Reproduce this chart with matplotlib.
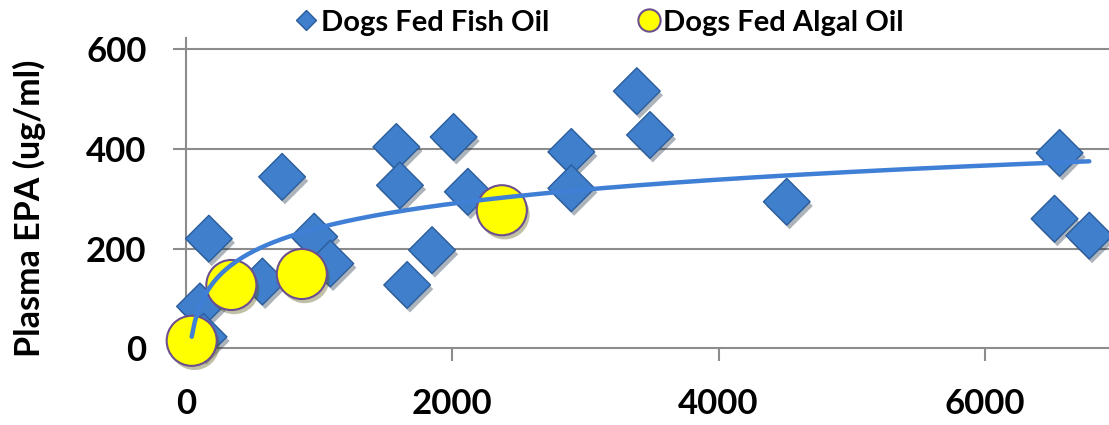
import numpy as np
import matplotlib
matplotlib.use("Agg")
import matplotlib.pyplot as plt
from matplotlib.lines import Line2D
import matplotlib.patheffects as pe

plt.rcParams['font.family'] = ['Lato', 'DejaVu Sans']
plt.rcParams['font.weight'] = 'bold'

# EPA dose (x) vs plasma EPA (ug/ml)
fish_x = [172, 105, 132, 574, 722, 963, 1084, 1580, 1607, 1661, 1848, 2010, 2117,
          2894, 2894, 3386, 3485, 4512, 6561, 6523, 6784]
fish_y = [220, 84, 23, 134, 344, 224, 170, 404, 327, 127, 197, 424, 314,
          394, 321, 516, 428, 294, 392, 260, 226]
algal_x = [43, 341, 870, 2372]
algal_y = [15, 127, 149, 277]

x_ticks = [0, 2000, 4000, 6000]
y_ticks = [0, 200, 400, 600]

FISH_BLUE = '#3f7fcc'
FISH_EDGE = '#2b5d9c'
ALGAL_FACE = '#ffff00'
ALGAL_EDGE = '#6b4f8f'
GRID = '#8c8c8c'

fig = plt.figure(figsize=(11.09, 4.25), dpi=100)
ax = fig.add_axes([0.1677, 0.1805, 0.8323, 0.7294])

shadow = [pe.SimplePatchShadow(offset=(2, -3), alpha=0.35), pe.Normal()]
ax.scatter(fish_x, fish_y, marker='D', s=565, color=FISH_BLUE,
           edgecolor=FISH_EDGE, linewidth=1, zorder=3, path_effects=shadow,
           clip_on=False)
ax.scatter(algal_x, algal_y, marker='o', s=1300, color=ALGAL_FACE,
           edgecolor=ALGAL_EDGE, linewidth=1.5, zorder=4, path_effects=shadow,
           clip_on=False)

# logarithmic trend over all dogs
all_x = np.array(fish_x + algal_x, dtype=float)
all_y = np.array(fish_y + algal_y, dtype=float)
b, a = np.polyfit(np.log(all_x), all_y, 1)
tx = np.linspace(all_x.min(), all_x.max(), 300)
ax.plot(tx, a + b * np.log(tx), color='#3f7fd6', lw=3.2, zorder=5,
        solid_capstyle='round', clip_on=False)

ax.set_xlim(0, 6932)
ax.set_ylim(0, 622)
ax.set_xticks(x_ticks)
ax.set_yticks(y_ticks)
for yv in y_ticks[1:]:
    ax.axhline(yv, color=GRID, lw=1.5, zorder=1)
for side in ('top', 'right'):
    ax.spines[side].set_visible(False)
for side in ('left', 'bottom'):
    ax.spines[side].set_color(GRID)
    ax.spines[side].set_linewidth(1.5)
ax.tick_params(axis='both', direction='out', length=9.5, width=1.5,
               color=GRID, labelsize=25, pad=19)
for lab in ax.get_xticklabels() + ax.get_yticklabels():
    lab.set_fontweight('bold')

ax.set_ylabel('Plasma EPA (ug/ml)', fontsize=24.5, fontweight='bold')
ax.yaxis.set_label_coords(-0.152, 0.453, transform=ax.transAxes)

handles = [
    Line2D([], [], marker='D', ls='none', markersize=10, color=FISH_BLUE,
           markeredgecolor=FISH_EDGE),
    Line2D([], [], marker='o', ls='none', markersize=16, color=ALGAL_FACE,
           markeredgecolor=ALGAL_EDGE, markeredgewidth=1.5),
]
fig.legend(handles, ['Dogs Fed Fish Oil', 'Dogs Fed Algal Oil'], ncol=2,
           loc='center', bbox_to_anchor=(0.541, 0.9466), frameon=False,
           prop={'size': 21, 'weight': 'bold'}, handlelength=0.7,
           handletextpad=0.15, columnspacing=3.05)

fig.savefig('out.png', dpi=100)
